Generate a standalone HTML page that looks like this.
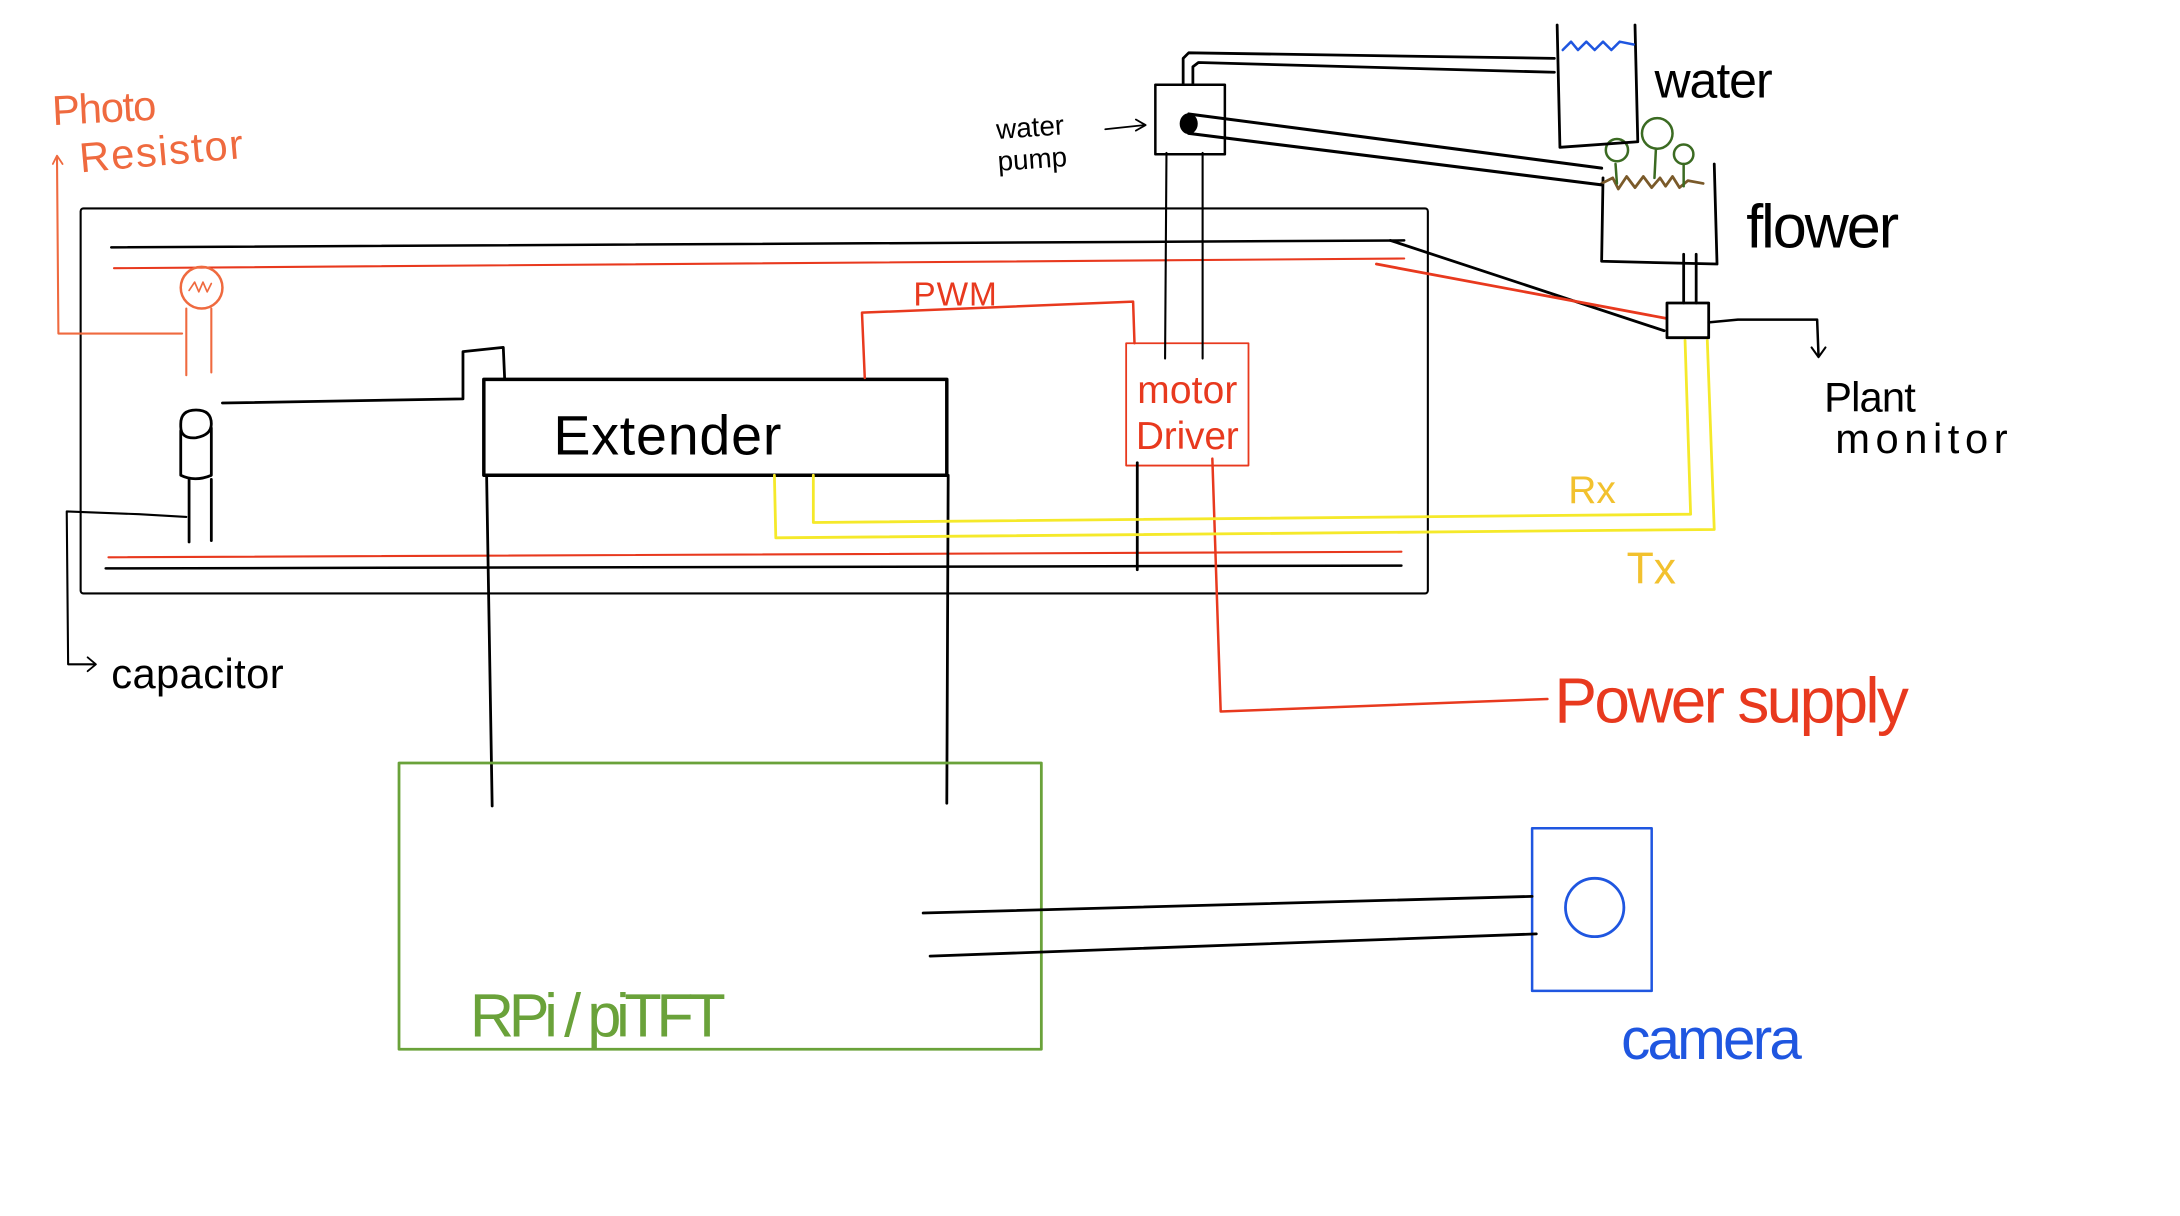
<!DOCTYPE html>
<html><head><meta charset="utf-8"><style>
html,body{margin:0;padding:0;background:#fff;width:2180px;height:1216px;overflow:hidden}
svg{display:block}
text{font-family:"Liberation Sans",sans-serif}
</style></head><body>
<svg width="2180" height="1216" viewBox="0 0 1568 875" preserveAspectRatio="none" xmlns="http://www.w3.org/2000/svg" fill="none" stroke-linecap="round" stroke-linejoin="round">
<!-- main board -->
<rect x="58" y="150" width="969" height="277" rx="2" stroke="#000" stroke-width="1.5"/>
<polyline points="80,178 1010,173" stroke="#000" stroke-width="1.8"/>
<polyline points="82,193 1010,186" stroke="#e8391e" stroke-width="1.5"/>
<polyline points="78,401 1008,397" stroke="#e8391e" stroke-width="1.5"/>
<polyline points="76,409 1008,407" stroke="#000" stroke-width="1.8"/>
<!-- photo resistor -->
<circle cx="145" cy="207" r="15" stroke="#ef6a3f" stroke-width="1.8"/>
<polyline points="136,209 140,203 143,210 146,203 149,210 152,204" stroke="#ef6a3f" stroke-width="1.2"/>
<line x1="134" y1="222" x2="134" y2="270" stroke="#ef6a3f" stroke-width="1.5"/>
<line x1="152" y1="222" x2="152" y2="268" stroke="#ef6a3f" stroke-width="1.5"/>
<polyline points="131,240 42,240 41,114" stroke="#ef6a3f" stroke-width="1.5"/>
<polyline points="38,118 41,112 45,118" stroke="#ef6a3f" stroke-width="1.3"/>
<text x="38" y="90" font-size="30" fill="#ef6a3f" stroke="none" transform="rotate(-3 38 90)" textLength="75">Photo</text>
<text x="58" y="124" font-size="30" fill="#ef6a3f" stroke="none" transform="rotate(-5 58 124)" textLength="118">Resistor</text>
<!-- capacitor -->
<path d="M130,305 q0,-10 11,-10 q11,0 11,10 q0,8 -11,10 q-11,1 -11,-8 z" stroke="#000" stroke-width="2"/>
<path d="M130,310 L130,342 q10,5 22,0 L152,308" stroke="#000" stroke-width="2"/>
<line x1="136" y1="345" x2="136" y2="390" stroke="#000" stroke-width="2"/>
<line x1="152" y1="345" x2="152" y2="389" stroke="#000" stroke-width="2"/>
<polyline points="134,372 100,370 48,368 49,478 68,478" stroke="#000" stroke-width="1.5"/>
<polyline points="63,473 69,478 63,483" stroke="#000" stroke-width="1.3"/>
<text x="80" y="495" font-size="30" fill="#000" stroke="none" textLength="124">capacitor</text>
<polyline points="160,290 333,287 333,253 362,250 363,273" stroke="#000" stroke-width="2"/>
<!-- extender -->
<rect x="348" y="273" width="333" height="69" stroke="#000" stroke-width="2.5"/>
<text x="398" y="327" font-size="40" fill="#000" stroke="none" textLength="164">Extender</text>
<polyline points="350,342 354,580" stroke="#000" stroke-width="2"/>
<polyline points="682,342 681,578" stroke="#000" stroke-width="2"/>
<!-- PWM -->
<polyline points="622,272 620,225 815,217 816,247" stroke="#e8391e" stroke-width="1.8"/>
<text x="657" y="220" font-size="24" fill="#e8391e" stroke="none" textLength="60">PWM</text>
<!-- motor driver -->
<rect x="810" y="247" width="88" height="88" stroke="#e8391e" stroke-width="1.3"/>
<text x="818" y="290" font-size="28" fill="#e8391e" stroke="none" textLength="72">motor</text>
<text x="817" y="323" font-size="28" fill="#e8391e" stroke="none" textLength="74">Driver</text>
<line x1="839" y1="110" x2="838" y2="258" stroke="#000" stroke-width="1.5"/>
<line x1="865" y1="110" x2="865" y2="258" stroke="#000" stroke-width="1.5"/>
<line x1="818" y1="333" x2="818" y2="410" stroke="#000" stroke-width="2"/>
<polyline points="872,330 878,512 1113,503" stroke="#e8391e" stroke-width="1.8"/>
<text x="1118" y="520" font-size="46" fill="#e8391e" stroke="none" textLength="255">Power supply</text>
<!-- yellow -->
<polyline points="557,342 558,387 1233,381 1228,245" stroke="#f5e92a" stroke-width="2"/>
<polyline points="585,342 585,376 1216,370 1212,245" stroke="#f5e92a" stroke-width="2"/>
<text x="1128" y="362" font-size="28" fill="#f2c12e" stroke="none">Rx</text>
<text x="1170" y="420" font-size="32" fill="#f2c12e" stroke="none">Tx</text>
<!-- plant monitor -->
<polyline points="1000,173 1197,238" stroke="#000" stroke-width="2"/>
<polyline points="990,190 1198,229" stroke="#e8391e" stroke-width="2"/>
<rect x="1199" y="218" width="30" height="25" stroke="#000" stroke-width="2"/>
<line x1="1211" y1="218" x2="1211" y2="183" stroke="#000" stroke-width="2"/>
<line x1="1220" y1="218" x2="1220" y2="183" stroke="#000" stroke-width="2"/>
<polyline points="1229,232 1250,230 1307,230 1308,256" stroke="#000" stroke-width="1.8"/>
<polyline points="1303,250 1308,257 1313,250" stroke="#000" stroke-width="1.5"/>
<text x="1312" y="296" font-size="30" fill="#000" stroke="none" textLength="66">Plant</text>
<text x="1320" y="326" font-size="30" fill="#000" stroke="none" textLength="124">monitor</text>
<!-- flower pot -->
<polyline points="1153,128 1152,188 1235,190 1233,118" stroke="#000" stroke-width="2"/>
<polyline points="1152,132 1160,128 1164,136 1170,127 1176,135 1182,127 1188,135 1194,128 1198,134 1203,127 1208,135 1214,130 1225,132" stroke="#7a5a2a" stroke-width="2"/>
<line x1="1162" y1="118" x2="1163" y2="132" stroke="#3b6b22" stroke-width="1.8"/>
<circle cx="1163" cy="108" r="8" stroke="#3b6b22" stroke-width="1.8"/>
<line x1="1191" y1="108" x2="1190" y2="128" stroke="#3b6b22" stroke-width="1.8"/>
<circle cx="1192" cy="96" r="11" stroke="#3b6b22" stroke-width="1.8"/>
<line x1="1211" y1="118" x2="1211" y2="134" stroke="#3b6b22" stroke-width="1.8"/>
<circle cx="1211" cy="111" r="7" stroke="#3b6b22" stroke-width="1.8"/>
<text x="1256" y="178" font-size="44" fill="#000" stroke="none" textLength="110">flower</text>
<!-- water tank -->
<polyline points="1120,18 1122,106 1178,102 1176,18" stroke="#000" stroke-width="2"/>
<polyline points="1124,36 1130,30 1135,36 1141,30 1147,36 1153,30 1159,36 1165,30 1175,32" stroke="#1f56e0" stroke-width="1.8"/>
<text x="1190" y="70" font-size="36" fill="#000" stroke="none" textLength="85">water</text>
<!-- pump -->
<rect x="831" y="61" width="50" height="50" stroke="#000" stroke-width="1.8"/>
<ellipse cx="855" cy="89" rx="6" ry="7" fill="#000" stroke="#000"/>
<polyline points="851,60 851,42 855,38 1118,42" stroke="#000" stroke-width="2"/>
<polyline points="858,60 858,48 862,45 1118,52" stroke="#000" stroke-width="2"/>
<polyline points="855,82 1152,121" stroke="#000" stroke-width="2.2"/>
<polyline points="855,96 1152,133" stroke="#000" stroke-width="2.2"/>
<text x="717" y="100" font-size="20" fill="#000" stroke="none" transform="rotate(-4 717 100)">water</text>
<text x="718" y="123" font-size="20" fill="#000" stroke="none" transform="rotate(-4 718 123)">pump</text>
<polyline points="795,93 823,90" stroke="#000" stroke-width="1.3"/>
<polyline points="817,86 824,90 817,94" stroke="#000" stroke-width="1.3"/>
<!-- RPi -->
<rect x="287" y="549" width="462" height="206" stroke="#6aa23a" stroke-width="2"/>
<text x="338" y="746" font-size="44" fill="#6aa23a" stroke="none" textLength="184">RPi / piTFT</text>
<!-- camera -->
<rect x="1102" y="596" width="86" height="117" stroke="#1f56e0" stroke-width="1.8"/>
<circle cx="1147" cy="653" r="21" stroke="#1f56e0" stroke-width="2"/>
<text x="1166" y="762" font-size="42" fill="#1f56e0" stroke="none" textLength="130">camera</text>
<polyline points="664,657 1102,645" stroke="#000" stroke-width="2"/>
<polyline points="669,688 1105,672" stroke="#000" stroke-width="2"/>
</svg>
</body></html>
